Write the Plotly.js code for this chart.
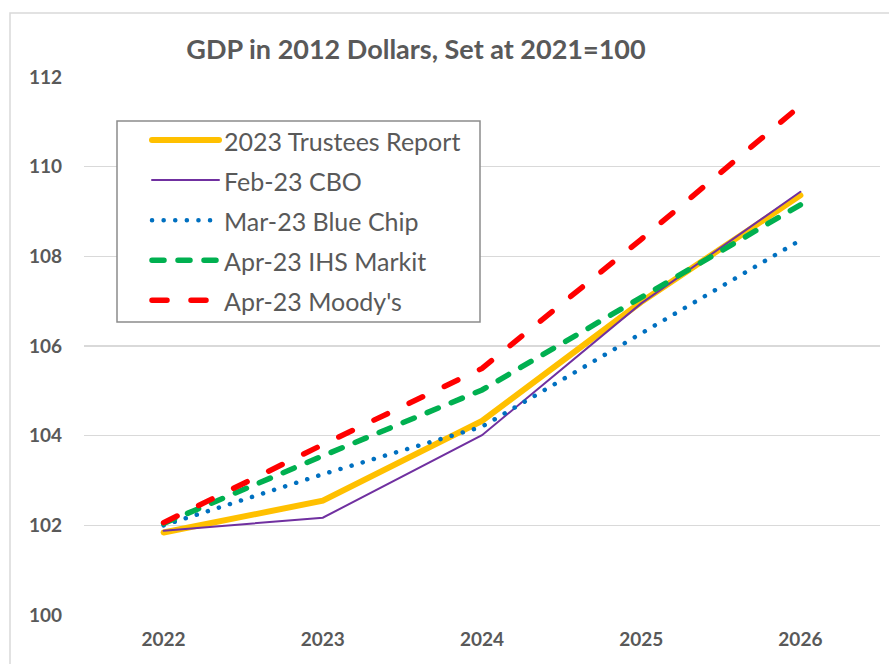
<!DOCTYPE html>
<html>
<head>
<meta charset="utf-8">
<script src="https://cdn.plot.ly/plotly-3.0.1.min.js"></script>
<style>
html,body{margin:0;padding:0;background:#fff;}
#chart{width:889px;height:664px;}
path.js-line{stroke-linecap:round;}
</style>
</head>
<body>
<div id="chart"></div>
<script>
const years = ['2022','2023','2024','2025','2026'];
const trustees = [101.84, 102.55, 104.33, 106.98, 109.36];
const cbo = [101.88, 102.17, 104.01, 106.95, 109.44];
const blueChip = [102.0, 103.14, 104.2, 106.28, 108.36];
const ihsMarkit = [102.04, 103.55, 105.02, 107.07, 109.15];
const moodys = [102.06, 103.8, 105.5, 108.38, 111.36];
const seriesNames = ['2023 Trustees Report','Feb-23 CBO','Mar-23 Blue Chip','Apr-23 IHS Markit',"Apr-23 Moody's"];
const yTicks = [100,102,104,106,108,110,112];

const lbl = s => '<span style="font-size:25px">' + s + '</span>';

const traces = [
  {x: years, y: trustees, name: lbl(seriesNames[0]), mode:'lines', line:{color:'#FFC000', width:6}},
  {x: years, y: cbo, name: lbl(seriesNames[1]), mode:'lines', line:{color:'#7030A0', width:2}},
  {x: years, y: blueChip, name: lbl(seriesNames[2]), mode:'lines', line:{color:'#0070C0', width:4.5, dash:'0.1px,11.5px'}},
  {x: years, y: ihsMarkit, name: lbl(seriesNames[3]), mode:'lines', line:{color:'#00B050', width:5.5, dash:'12px,14px'}},
  {x: years, y: moodys, name: lbl(seriesNames[4]), mode:'lines', line:{color:'#FF0000', width:5.5, dash:'15px,24px'}}
];

const px = v => (v-84)/796;
const py = v => (615-v)/538;

const layout = {
  width: 889, height: 664,
  margin: {l:84, r:9, t:77, b:49},
  paper_bgcolor:'#fff', plot_bgcolor:'#fff',
  font: {family:'Lato, "Open Sans", sans-serif', color:'#595959'},
  title: {text:'GDP in 2012 Dollars, Set at 2021=100', font:{size:27, color:'#595959', family:'Lato, sans-serif', weight:'bold'},
          x:416/889, xanchor:'center', xref:'container', y:1-50/664, yanchor:'middle', yref:'container'},
  xaxis: {type:'category', range:[-0.5,4.5], showgrid:false, zeroline:false, showline:false, ticks:'',
          tickfont:{size:19, color:'#595959', family:'Lato, sans-serif', weight:'bold'}, ticklabelstandoff:11, fixedrange:true},
  yaxis: {range:[100,112], tickvals:yTicks, ticktext:yTicks.map(String), showgrid:true, gridcolor:'#D9D9D9', gridwidth:1.5,
          zeroline:false, showline:false, ticks:'', ticklabelstandoff:21,
          tickfont:{size:19, color:'#595959', family:'Lato, sans-serif', weight:'bold'}, fixedrange:true},
  legend: {x:px(147), y:py(115), xanchor:'left', yanchor:'top', bgcolor:'rgba(0,0,0,0)', borderwidth:0,
           font:{size:28.5, color:'#595959', family:'Lato, sans-serif'}, itemwidth:67, tracegroupgap:0},
  shapes: [
    {type:'rect', xref:'paper', yref:'paper', x0:(10-84)/796, x1:1.2, y0:-0.3, y1:py(13),
     line:{color:'#D9D9D9', width:1.5}, fillcolor:'rgba(0,0,0,0)', layer:'below'},
    {type:'rect', xref:'paper', yref:'paper', x0:px(117), x1:px(480), y0:py(322), y1:py(121),
     line:{color:'#8C8C8C', width:1.5}, fillcolor:'#FFFFFF', layer:'above'}
  ],
  showlegend:true
};

Plotly.newPlot('chart', traces, layout, {displayModeBar:false, staticPlot:true});
</script>
</body>
</html>
